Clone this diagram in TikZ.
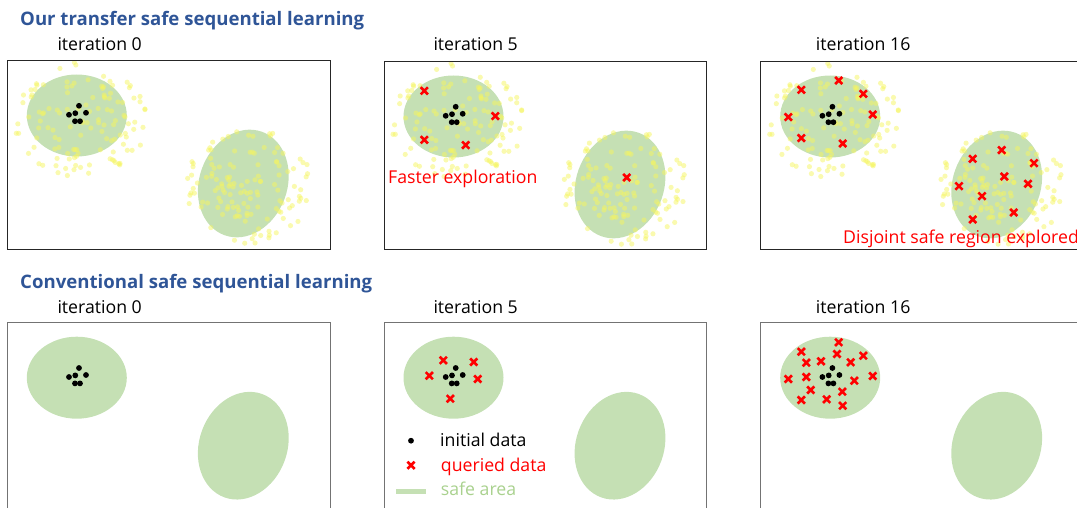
\documentclass[tikz,border=0pt]{standalone}
\usepackage{fontspec}
\setmainfont{Open Sans}
\usetikzlibrary{shapes.misc}
\definecolor{safegreen}{HTML}{C5E0B4}
\definecolor{safetext}{HTML}{A9D18E}
\definecolor{titleblue}{HTML}{2F5597}
\definecolor{yel}{HTML}{F5F560}
\tikzset{
  panelbox/.style={draw=black!85, line width=0.9pt},
  panelboxlow/.style={draw=black!55, line width=1pt},
  safe/.style={fill=safegreen},
  initdot/.style={fill=black},
  qcross/.style={cross out, draw=red, line width=2.6pt, minimum size=4.6pt, inner sep=0pt},
  ydot/.style={fill=yel, fill opacity=0.5},
  titletext/.style={font=\fontsize{18.6}{22}\selectfont\bfseries, text=titleblue, anchor=base west, inner sep=0pt},
  itertext/.style={font=\fontsize{17.7}{21}\selectfont, anchor=base west, inner sep=0pt},
  remark/.style={font=\fontsize{17.7}{21}\selectfont, text=red, anchor=base west, inner sep=0pt},
}
\newcommand\safeareas{%
  \fill[safe] (69.5,55) ellipse [x radius=50pt, y radius=41pt];
  \begin{scope}[shift={(236,123)}, rotate=-20]
    \fill[safe] (0,0) ellipse [x radius=44pt, y radius=55pt];
  \end{scope}
}
\newcommand\yellowdots{%
  \pgfmathsetseed{2718}
  \foreach \i in {1,...,125}{
    \pgfmathsetmacro\rr{sqrt(rnd)}
    \pgfmathsetmacro\aa{360*rnd}
    \fill[ydot] ({74+67*\rr*cos(\aa)},{59+58*\rr*sin(\aa)}) circle (2.6pt);
  }
  \foreach \i in {1,...,135}{
    \pgfmathsetmacro\rr{sqrt(rnd)}
    \pgfmathsetmacro\aa{360*rnd}
    \fill[ydot] ({239+67*\rr*cos(\aa)},{125+58*\rr*sin(\aa)}) circle (2.6pt);
  }
}
\newcommand\initdata{%
  \foreach \p in {(71.7,45.3),(61.7,54.3),(68,52.7),(78.7,52.3),(67.7,60.7),(72.7,60.7)}
    \fill[initdot] \p circle (2.9pt);
}
\begin{document}
\begin{tikzpicture}[x=1pt, y=-1pt]
\useasboundingbox (0,0) rectangle (1077,508);
\clip (0,0) rectangle (1077,508);

% titles
\node[titletext] (t1) at (20,26) {Our transfer safe sequential learning};
\node[titletext] (t2) at (20,288.3) {Conventional safe sequential learning};

% iteration labels
\node[itertext] (it1) at (57.3,51) {iteration 0};
\node[itertext] (it2) at (433.3,51) {iteration 5};
\node[itertext] (it3) at (815.7,51) {iteration 16};
\node[itertext] (ib1) at (57.3,313.3) {iteration 0};
\node[itertext] (ib2) at (433.3,313.3) {iteration 5};
\node[itertext] (ib3) at (815.7,313.3) {iteration 16};

% ---------- top row ----------
% panel 1
\begin{scope}[shift={(7.3,60.5)}]
  \begin{scope}
    \clip (0,0) rectangle (323,188.5);
    \safeareas
    \yellowdots
    \initdata
  \end{scope}
  \draw[panelbox] (0,0) rectangle (323,188.5);
\end{scope}
% panel 2
\begin{scope}[shift={(384,61.5)}]
  \begin{scope}
    \clip (0,0) rectangle (322.5,187.5);
    \safeareas
    \yellowdots
    \initdata
    \foreach \p [count=\k] in {(40.3,29.3),(111.3,54.6),(40.3,78.3),(81.7,83.6),(242.7,116)}
      \node[qcross, name=qa\k] at \p {};
  \end{scope}
  \draw[panelbox] (0,0) rectangle (322.5,187.5);
\end{scope}
% panel 3
\begin{scope}[shift={(760.7,61.5)}]
  \begin{scope}
    \clip (0,0) rectangle (323,187.5);
    \safeareas
    \yellowdots
    \initdata
    \foreach \p [count=\k] in {(78,19),(40.6,28.3),(102.6,32.3),(112,53),(27.6,55.6),(40.6,76.6),(82,82),
      (241,88.6),(212,97.3),(273.3,101.6),(243.6,115),(198.3,124.6),(267.3,122.3),(221.3,134.6),(253,151),(212,158)}
      \node[qcross, name=qb\k] at \p {};
  \end{scope}
  \draw[panelbox] (0,0) rectangle (323,187.5);
\end{scope}

\node[remark] (faster) at (388,183.3) {Faster exploration};
\node[remark] (disjoint) at (843,243.3) {Disjoint safe region explored};

% ---------- bottom row ----------
\begin{scope}[shift={(7.3,322.7)}]
  \safeareas
  \initdata
  \draw[panelboxlow] (0,0) rectangle (323,189);
\end{scope}
\begin{scope}[shift={(384,322.7)}]
  \safeareas
  \initdata
  \foreach \p [count=\k] in {(59.3,37.6),(89.7,39.3),(45.3,53),(93.7,56.3),(66.3,76)}
    \node[qcross, name=qc\k] at \p {};
  \draw[panelboxlow] (0,0) rectangle (322.5,189);
\end{scope}
\begin{scope}[shift={(760.7,322.7)}]
  \safeareas
  \initdata
  \foreach \p [count=\k] in {(78,19.6),(40.6,29),(76.3,31.3),(102.6,33),(45.6,40),(60.3,38.6),(90,39.6),(27.6,56.3),
    (45.6,54.3),(93.6,58),(112,53.3),(50,67.3),(81.6,69),(40.6,77.3),(66,76.6),(82,83)}
    \node[qcross, name=qd\k] at \p {};
  \draw[panelboxlow] (0,0) rectangle (323,189);
\end{scope}

% legend
\fill[initdot] (411,440.7) circle (2.9pt);
\node[itertext] (leginit) at (440,446) {initial data};
\node[qcross] (legq) at (411,465.3) {};
\node[itertext, text=red] (legquery) at (440.7,471) {queried data};
\coordinate (lgA) at (396,491);
\coordinate (lgB) at (425.7,491);
\draw[safegreen, line width=5pt] (lgA) -- (lgB);
\node[itertext, text=safetext] (legsafe) at (440.7,495.7) {safe area};
\end{tikzpicture}
\end{document}
